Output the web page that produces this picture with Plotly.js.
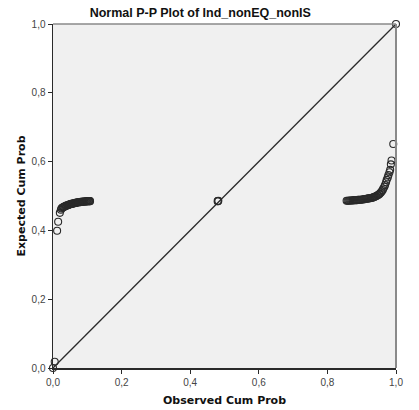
<!DOCTYPE html>
<html>
<head>
<meta charset="utf-8">
<script src="https://cdn.plot.ly/plotly-3.0.1.min.js"></script>
<style>html,body{margin:0;padding:0;background:#fff;}#chart{width:419px;height:410px;}</style>
</head>
<body>
<div id="chart"></div>
<script>
// Observed vs expected cumulative probabilities
const lowObs = [0.000, 0.005, 0.012, 0.015, 0.020, 0.023, 0.025, 0.027, 0.029, 0.031, 0.033, 0.035, 0.037, 0.039, 0.041, 0.043, 0.045, 0.047, 0.049, 0.051, 0.053, 0.055, 0.057, 0.059, 0.061, 0.063, 0.065, 0.067, 0.069, 0.071, 0.073, 0.075, 0.077, 0.079, 0.081, 0.083, 0.085, 0.087, 0.089, 0.091, 0.093, 0.095, 0.097, 0.099, 0.101, 0.103, 0.105, 0.107, 0.108];
const lowExp = [0.000, 0.018, 0.399, 0.425, 0.451, 0.460, 0.464, 0.466, 0.467, 0.468, 0.469, 0.470, 0.471, 0.472, 0.473, 0.473, 0.474, 0.475, 0.476, 0.476, 0.477, 0.477, 0.478, 0.478, 0.479, 0.479, 0.480, 0.480, 0.481, 0.481, 0.482, 0.482, 0.482, 0.482, 0.483, 0.483, 0.483, 0.483, 0.484, 0.484, 0.484, 0.484, 0.484, 0.485, 0.485, 0.485, 0.485, 0.485, 0.485];
const midObs = [0.480, 0.481, 0.482];
const midExp = [0.485, 0.485, 0.486];
const highObs = [0.856, 0.859, 0.862, 0.865, 0.868, 0.871, 0.874, 0.877, 0.880, 0.883, 0.886, 0.889, 0.892, 0.895, 0.898, 0.901, 0.904, 0.907, 0.910, 0.913, 0.916, 0.919, 0.922, 0.925, 0.928, 0.931, 0.933, 0.936, 0.938, 0.941, 0.943, 0.946, 0.948, 0.951, 0.953, 0.956, 0.958, 0.961, 0.963, 0.966, 0.968, 0.971, 0.973, 0.976, 0.978, 0.981, 0.983, 0.985, 0.987, 0.992, 1.000];
const highExp = [0.486, 0.486, 0.486, 0.487, 0.487, 0.487, 0.487, 0.488, 0.488, 0.488, 0.488, 0.489, 0.489, 0.489, 0.489, 0.490, 0.490, 0.491, 0.491, 0.492, 0.492, 0.493, 0.493, 0.494, 0.494, 0.495, 0.496, 0.497, 0.498, 0.499, 0.500, 0.502, 0.503, 0.505, 0.507, 0.510, 0.513, 0.517, 0.522, 0.527, 0.532, 0.540, 0.547, 0.554, 0.561, 0.569, 0.576, 0.592, 0.603, 0.651, 1.000];
const diagX = [0, 1];
const diagY = [0, 1];
const tickVals = [0, 0.2, 0.4, 0.6, 0.8, 1.0];

const obs = lowObs.concat(midObs, highObs);
const exp = lowExp.concat(midExp, highExp);

const dark = '#2a2a2a';
const traces = [
  {x: diagX, y: diagY, mode: 'lines', line: {color: dark, width: 1.3}, hoverinfo: 'skip', showlegend: false, cliponaxis: false},
  {x: obs, y: exp, mode: 'markers', showlegend: false, cliponaxis: false,
   marker: {symbol: 'circle-open', size: 7, color: dark, line: {width: 1.1, color: dark}}}
];

const axisCommon = {
  range: [0, 1], tickvals: tickVals, tickformat: '.1f',
  ticks: 'outside', ticklen: 4, tickwidth: 1, tickcolor: dark,
  showline: true, linecolor: dark, linewidth: 1.5,
  showgrid: false, zeroline: false,
  tickfont: {family: 'Liberation Sans, Arial, sans-serif', size: 10, color: '#444'}
};

const layout = {
  width: 419, height: 410,
  margin: {l: 53, r: 23, t: 24, b: 42},
  paper_bgcolor: '#ffffff', plot_bgcolor: '#f0f0f0',
  separators: ',.',
  title: {text: '<b>Normal P-P Plot of Ind_nonEQ_nonIS</b>', x: 0.478, xref: 'container', xanchor: 'center', y: 0.97, yanchor: 'middle',
          font: {family: 'Liberation Sans, Arial, sans-serif', size: 12.5, color: '#111'}},
  xaxis: Object.assign({}, axisCommon, {
    title: {text: '<b>Observed Cum Prob</b>', standoff: 10, font: {family: 'DejaVu Sans, sans-serif', size: 11, color: '#111'}}
  }),
  yaxis: Object.assign({}, axisCommon, {
    title: {text: '<b>Expected Cum Prob</b>', standoff: 3, font: {family: 'DejaVu Sans, sans-serif', size: 11, color: '#111'}}
  }),
  shapes: [
    {type: 'line', xref: 'paper', yref: 'paper', x0: 0, x1: 1, y0: 1, y1: 1, line: {color: '#8a8a8a', width: 1.5}},
    {type: 'line', xref: 'paper', yref: 'paper', x0: 1, x1: 1, y0: 0, y1: 1, line: {color: '#8a8a8a', width: 2}}
  ]
};

Plotly.newPlot('chart', traces, layout, {staticPlot: true, displayModeBar: false});
</script>
</body>
</html>
